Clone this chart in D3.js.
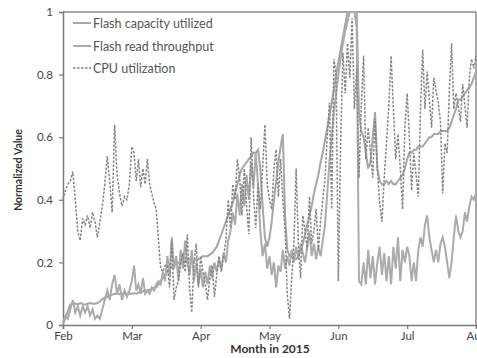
<!DOCTYPE html>
<html><head><meta charset="utf-8">
<script src="https://cdn.jsdelivr.net/npm/d3@7"></script>
<style>
body{margin:0;background:#fff;}
text{font-family:Lato,"Open Sans",sans-serif;fill:#333;}
</style></head>
<body><svg id="c" width="477" height="358"></svg>
<script>
// Days since Feb 1, 2015 (index = day)
const monthLabels = ["Feb","Mar","Apr","May","Jun","Jul","Aug"];
const monthStartDays = [0,28,59,89,120,150,181];
const yTicks = [0,0.2,0.4,0.6,0.8,1];
const seriesNames = ["Flash capacity utilized","Flash read throughput","CPU utilization"];

const capacity = [0.005,0.02,0.045,0.065,0.07,0.068,0.066,0.07,0.067,0.065,0.068,0.07,0.068,0.068,0.07,0.075,0.082,0.088,0.09,0.094,
0.097,0.1,0.1,0.098,0.1,0.1,0.1,0.101,0.1,0.102,0.1,0.104,0.105,0.107,0.11,0.11,0.112,0.115,0.118,0.12,
0.13,0.14,0.15,0.16,0.17,0.18,0.185,0.19,0.195,0.2,0.2,0.2,0.205,0.21,0.21,0.2,0.205,0.21,0.21,0.215,
0.22,0.22,0.22,0.225,0.23,0.24,0.25,0.27,0.29,0.31,0.33,0.35,0.37,0.39,0.42,0.45,0.48,0.5,0.51,0.52,
0.53,0.54,0.55,0.55,0.56,0.5,0.38,0.28,0.25,0.28,0.33,0.4,0.46,0.52,0.57,0.61,0.35,0.24,0.22,0.22,
0.21,0.21,0.22,0.24,0.26,0.29,0.32,0.35,0.38,0.42,0.45,0.48,0.52,0.55,0.59,0.63,0.67,0.71,0.75,0.8,
0.84,0.88,0.92,0.96,1.0,1.0,1.0,1.0,1.0,0.68,0.62,0.6,0.55,0.5,0.52,0.6,0.68,0.5,0.46,0.45,
0.45,0.46,0.45,0.46,0.45,0.45,0.46,0.47,0.48,0.5,0.53,0.55,0.55,0.56,0.56,0.57,0.57,0.57,0.58,0.59,
0.6,0.6,0.61,0.61,0.61,0.62,0.62,0.62,0.62,0.63,0.65,0.67,0.69,0.72,0.72,0.73,0.74,0.75,0.76,0.77,
0.79,0.81];

const throughput = [0.01,0.03,0.02,0.05,0.08,0.04,0.06,0.03,0.06,0.04,0.06,0.03,0.05,0.02,0.03,0.02,0.05,0.08,0.11,0.08,
0.13,0.16,0.1,0.13,0.08,0.11,0.09,0.11,0.14,0.19,0.11,0.13,0.1,0.15,0.1,0.11,0.1,0.12,0.11,0.13,
0.14,0.13,0.17,0.14,0.22,0.16,0.28,0.18,0.22,0.14,0.24,0.18,0.27,0.2,0.16,0.24,0.14,0.2,0.13,0.18,
0.12,0.17,0.13,0.19,0.15,0.2,0.17,0.21,0.18,0.23,0.2,0.27,0.3,0.36,0.32,0.42,0.35,0.45,0.38,0.48,
0.4,0.52,0.44,0.55,0.45,0.3,0.22,0.26,0.18,0.22,0.16,0.2,0.12,0.19,0.17,0.24,0.18,0.22,0.19,0.24,
0.2,0.25,0.21,0.26,0.23,0.2,0.25,0.3,0.22,0.26,0.21,0.25,0.22,0.27,0.32,0.42,0.52,0.6,0.68,0.74,
0.8,0.85,0.9,0.94,0.97,1.0,1.0,1.0,0.95,0.14,0.13,0.2,0.13,0.24,0.15,0.22,0.13,0.2,0.25,0.16,
0.23,0.14,0.22,0.13,0.25,0.18,0.28,0.14,0.24,0.2,0.25,0.22,0.14,0.2,0.14,0.24,0.28,0.25,0.32,0.35,
0.28,0.24,0.2,0.24,0.2,0.26,0.28,0.25,0.2,0.15,0.2,0.28,0.35,0.3,0.28,0.3,0.36,0.33,0.38,0.41,
0.4,0.42];

const cpu = [0.40,0.43,0.45,0.46,0.49,0.40,0.30,0.27,0.34,0.32,0.35,0.31,0.36,0.33,0.28,0.33,0.38,0.45,0.54,0.46,
0.36,0.64,0.48,0.42,0.38,0.41,0.40,0.45,0.57,0.55,0.46,0.53,0.44,0.50,0.45,0.53,0.45,0.42,0.39,0.37,
0.27,0.18,0.17,0.19,0.19,0.12,0.27,0.08,0.12,0.14,0.20,0.23,0.17,0.29,0.12,0.04,0.20,0.26,0.12,0.22,
0.17,0.13,0.08,0.15,0.19,0.09,0.16,0.22,0.17,0.22,0.27,0.40,0.31,0.45,0.40,0.53,0.47,0.35,0.50,0.38,
0.29,0.60,0.42,0.31,0.45,0.37,0.50,0.64,0.45,0.40,0.37,0.50,0.56,0.41,0.53,0.40,0.31,0.10,0.02,0.15,
0.26,0.50,0.26,0.15,0.35,0.30,0.24,0.41,0.26,0.30,0.37,0.24,0.33,0.40,0.47,0.60,0.71,0.37,0.85,0.80,
0.14,0.58,0.87,0.74,0.90,0.79,0.98,0.69,0.82,0.47,0.70,0.86,0.53,0.63,0.55,0.47,0.66,0.50,0.39,0.33,
0.47,0.58,0.70,0.86,0.69,0.53,0.61,0.50,0.37,0.63,0.74,0.60,0.43,0.55,0.48,0.41,0.69,0.88,0.69,0.81,
0.72,0.63,0.79,0.75,0.71,0.65,0.42,0.58,0.55,0.75,0.90,0.69,0.74,0.70,0.65,0.77,0.70,0.63,0.79,0.85,
0.82,0.86];

const svg = d3.select("#c");
const m = {left:63, top:12, right:476, bottom:325};

// months drawn equally spaced, days interpolated within each month
const x = d3.scaleLinear()
  .domain(monthStartDays)
  .range(monthStartDays.map((d,i)=> m.left + i*(m.right-m.left)/6));
const y = d3.scaleLinear().domain([0,1]).range([m.bottom, m.top]);

// frame
svg.append("line").attr("x1",m.left).attr("x2",m.right).attr("y1",m.top).attr("y2",m.top)
  .attr("stroke","#8a8a8a").attr("stroke-width",1.5);
svg.append("line").attr("x1",m.right).attr("x2",m.right).attr("y1",m.top).attr("y2",m.bottom)
  .attr("stroke","#8a8a8a").attr("stroke-width",1.5);

// axes
const yAxis = svg.append("g").attr("transform",`translate(${m.left},0)`)
  .call(d3.axisLeft(y).tickValues(yTicks).tickFormat(d=>d===0?"0":d===1?"1":d3.format(".1f")(d)).tickSize(4).tickPadding(6));
const xAxis = svg.append("g").attr("transform",`translate(0,${m.bottom})`)
  .call(d3.axisBottom(x).tickValues(monthStartDays).tickFormat((d,i)=>monthLabels[i]).tickSize(4).tickPadding(3));
[yAxis,xAxis].forEach(g=>{
  g.select(".domain").attr("stroke","#7a7a7a").attr("stroke-width",1.5);
  g.selectAll(".tick line").attr("stroke","#7a7a7a").attr("stroke-width",1.2);
  g.selectAll(".tick text").style("font-size","11.5px").style("fill","#444").style("font-family","Lato, sans-serif");
});

const line = d3.line().x((d,i)=>x(i)).y(d=>y(d));
const plot = svg.append("g");
plot.append("path").datum(capacity).attr("d",line).attr("fill","none")
  .attr("stroke","#a6a6a6").attr("stroke-width",2);
plot.append("path").datum(throughput).attr("d",line).attr("fill","none")
  .attr("stroke","#ababab").attr("stroke-width",2);
plot.append("path").datum(cpu).attr("d",line).attr("fill","none")
  .attr("stroke","#858585").attr("stroke-width",1.5).attr("stroke-dasharray","2.5,1.5");

// legend
const leg = svg.append("g");
const styles = [{c:"#a6a6a6",w:2,da:null},{c:"#ababab",w:2,da:null},{c:"#858585",w:1.5,da:"2.5,1.5"}];
const legY = [23,46,68];
seriesNames.forEach((n,i)=>{
  leg.append("line").attr("x1",73).attr("x2",91).attr("y1",legY[i]).attr("y2",legY[i])
    .attr("stroke",styles[i].c).attr("stroke-width",styles[i].w).attr("stroke-dasharray",styles[i].da);
  leg.append("text").attr("x",93).attr("y",legY[i]+4.5).text(n)
    .style("font-size","12.5px").style("fill","#555");
});

// axis titles
svg.append("text").attr("transform","translate(22,170) rotate(-90)").attr("text-anchor","middle")
  .style("font-size","10.5px").style("font-weight","bold").style("fill","#333").text("Normalized Value");
svg.append("text").attr("x",270).attr("y",353).attr("text-anchor","middle")
  .style("font-size","12px").style("font-weight","bold").style("fill","#333").text("Month  in 2015");
</script></body></html>
